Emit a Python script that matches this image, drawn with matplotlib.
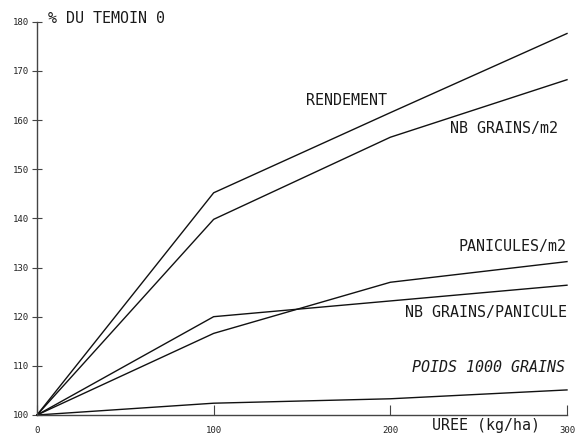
import matplotlib
matplotlib.use("Agg")
import matplotlib.pyplot as plt

uree = [0, 100, 200, 300]
rendement = [100, 145.2, 161.5, 177.6]
nb_grains_m2 = [100, 139.8, 156.5, 168.2]
panicules_m2 = [100, 116.6, 127.0, 131.2]
nb_grains_panicule = [100, 120.0, 123.2, 126.4]
poids_1000 = [100, 102.4, 103.3, 105.1]

series = [rendement, nb_grains_m2, panicules_m2, nb_grains_panicule, poids_1000]

x_ticks = [0, 100, 200, 300]
y_ticks = [100, 110, 120, 130, 140, 150, 160, 170, 180]

fig = plt.figure(figsize=(5.78, 4.41), dpi=100)
ax = fig.add_axes([37/578, 26/441, (567-37)/578, (415-21.7)/441])
ax.set_xlim(0, 300)
ax.set_ylim(100, 180)

for s in series:
    ax.plot(uree, s, color="#111111", lw=1.0, clip_on=False)

for sp in ["top", "right"]:
    ax.spines[sp].set_visible(False)
for sp in ["left", "bottom"]:
    ax.spines[sp].set_color("#444444")
    ax.spines[sp].set_linewidth(1.0)

ax.set_xticks(x_ticks)
ax.set_yticks(y_ticks)
tf = "DejaVu Sans Mono"
ax.set_xticklabels([str(v) for v in x_ticks], fontsize=6.5, color="#222222", family=tf)
ax.set_yticklabels([str(v) for v in y_ticks], fontsize=6.5, color="#222222", family=tf)
ax.tick_params(axis="y", direction="inout", length=7, width=0.8, color="#444444", pad=2)
ax.tick_params(axis="x", direction="in", length=7, width=0.8, color="#444444", pad=8)

tk = dict(color="#1a1a1a", fontsize=10.8, family=tf)
ax.text(175, 164, "RENDEMENT", ha="center", va="center", **tk)
ax.text(234, 158.3, "NB GRAINS/m2", ha="left", va="center", **tk)
ax.text(299.5, 134.3, "PANICULES/m2", ha="right", va="center", **tk)
ax.text(300, 120.9, "NB GRAINS/PANICULE", ha="right", va="center", **tk)
ax.text(299, 109.6, "POIDS 1000 GRAINS", ha="right", va="center", style="italic", **tk)
ax.text(284.5, 97.8, "UREE (kg/ha)", ha="right", va="center", clip_on=False, **tk)
ax.text(6, 180.7, "% DU TEMOIN 0", ha="left", va="center", clip_on=False, **tk)

fig.savefig("out.png", dpi=100)
